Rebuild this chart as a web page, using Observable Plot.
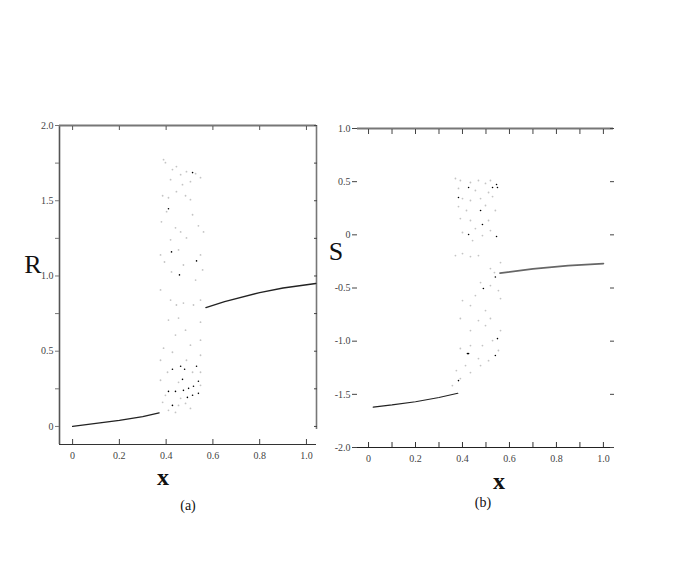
<!DOCTYPE html>
<html>
<head>
<meta charset="utf-8">
<script src="https://cdn.jsdelivr.net/npm/d3@7"></script>
<script src="https://cdn.jsdelivr.net/npm/@observablehq/plot@0.6"></script>
<style>
  body { margin: 0; background: #fff; }
  #wrap { position: relative; width: 692px; height: 562px; background: #fff; overflow: hidden; font-family: "Liberation Serif", "DejaVu Serif", serif; }
  .panel { position: absolute; }
  .lab { position: absolute; color: #111; font-family: "Liberation Serif", serif; transform: translate(-50%, -50%); white-space: nowrap; }
</style>
</head>
<body>
<div id="wrap"></div>
<script>
// ---------- data ----------
const xTicksMajor = [0, 0.2, 0.4, 0.6, 0.8, 1.0];
const xTicksMinor = [0, 0.1, 0.2, 0.3, 0.4, 0.5, 0.6, 0.7, 0.8, 0.9, 1.0];
const yTicksA = [0, 0.25, 0.5, 0.75, 1.0, 1.25, 1.5, 1.75, 2.0];
const yLabelsA = [0, 0.5, 1.0, 1.5, 2.0];
const yTicksB = [-2.0, -1.5, -1.0, -0.5, 0, 0.5, 1.0];
const xDomainA = [-0.056, 1.043];
const yDomainA = [-0.12, 2.0];
const xDomainB = [-0.047, 1.043];
const yDomainB = [-2.0, 1.0];

// panel (a): R vs x
const lineA1 = [[0, 0], [0.1, 0.02], [0.2, 0.04], [0.3, 0.065], [0.37, 0.09]];
const lineA2 = [[0.57, 0.79], [0.65, 0.83], [0.8, 0.89], [0.9, 0.92], [1.04, 0.95]];
const darkA = [[0.513,1.687],[0.410,1.447],[0.423,1.160],[0.530,1.100],[0.457,1.007],[0.427,0.380],[0.462,0.400],[0.479,0.380],[0.530,0.400],[0.470,0.313],[0.538,0.300],[0.410,0.233],[0.440,0.233],[0.474,0.240],[0.496,0.253],[0.517,0.267],[0.427,0.140],[0.491,0.193],[0.513,0.207],[0.538,0.220]];
const greyA = [[0.389,1.773],[0.397,1.753],[0.427,1.707],[0.444,1.727],[0.462,1.673],[0.487,1.693],[0.526,1.68],[0.547,1.653],[0.419,1.64],[0.470,1.607],[0.504,1.627],[0.444,1.56],[0.385,1.533],[0.410,1.52],[0.483,1.533],[0.504,1.507],[0.402,1.427],[0.513,1.407],[0.380,1.36],[0.440,1.32],[0.462,1.293],[0.419,1.24],[0.487,1.253],[0.560,1.293],[0.538,1.333],[0.376,1.14],[0.453,1.173],[0.547,1.14],[0.393,1.093],[0.474,1.073],[0.556,1.04],[0.423,1.027],[0.526,0.973],[0.376,0.907],[0.419,0.84],[0.444,0.807],[0.474,0.82],[0.517,0.807],[0.547,0.84],[0.410,0.707],[0.453,0.72],[0.547,0.693],[0.483,0.64],[0.440,0.607],[0.547,0.573],[0.504,0.54],[0.389,0.52],[0.427,0.493],[0.547,0.473],[0.376,0.44],[0.487,0.44],[0.406,0.36],[0.513,0.36],[0.376,0.307],[0.453,0.293],[0.547,0.36],[0.397,0.207],[0.462,0.187],[0.547,0.273],[0.385,0.16],[0.453,0.14],[0.504,0.12],[0.410,0.107],[0.440,0.093],[0.483,0.153]];

// panel (b): S vs x
const lineB1 = [[0.02, -1.62], [0.1, -1.6], [0.2, -1.57], [0.3, -1.53], [0.38, -1.49]];
const lineB2 = [[0.56, -0.36], [0.7, -0.32], [0.85, -0.29], [1.0, -0.27]];
const darkB = [[0.426,0.445],[0.383,0.351],[0.545,0.473],[0.528,0.445],[0.549,0.445],[0.477,0.229],[0.485,0.097],[0.426,0.003],[0.545,-0.016],[0.540,-0.397],[0.489,-0.505],[0.549,-0.976],[0.421,-1.117],[0.426,-1.117],[0.540,-1.135],[0.383,-1.371]];
const greyB = [[0.370,0.530],[0.391,0.511],[0.434,0.492],[0.468,0.511],[0.498,0.483],[0.519,0.511],[0.383,0.436],[0.455,0.417],[0.511,0.398],[0.400,0.341],[0.434,0.323],[0.477,0.341],[0.528,0.360],[0.383,0.266],[0.417,0.229],[0.498,0.276],[0.540,0.229],[0.391,0.153],[0.434,0.135],[0.511,0.135],[0.455,0.059],[0.400,0.022],[0.485,-0.007],[0.519,0.040],[0.443,-0.054],[0.370,-0.195],[0.400,-0.176],[0.434,-0.204],[0.468,-0.195],[0.562,-0.261],[0.519,-0.317],[0.536,-0.355],[0.477,-0.449],[0.519,-0.477],[0.553,-0.524],[0.455,-0.571],[0.562,-0.599],[0.400,-0.618],[0.434,-0.665],[0.498,-0.712],[0.391,-0.787],[0.468,-0.806],[0.519,-0.787],[0.434,-0.900],[0.498,-0.853],[0.562,-0.900],[0.528,-0.994],[0.485,-1.041],[0.434,-1.041],[0.553,-1.088],[0.391,-1.069],[0.468,-1.164],[0.511,-1.183],[0.413,-1.230],[0.477,-1.230],[0.374,-1.277],[0.434,-1.295],[0.391,-1.352],[0.357,-1.418]];

// ---------- helpers ----------
const fmt = d => d === 0 ? "0" : d.toFixed(1);
const tickFont = {fontFamily: "Liberation Serif, serif", fontSize: 10, fill: "#444"};
const wrap = document.getElementById("wrap");

function place(el, left, top) {
  el.classList.add("panel");
  el.style.left = left + "px";
  el.style.top = top + "px";
  wrap.appendChild(el);
}
function label(text, x, y, size, weight) {
  const d = document.createElement("div");
  d.className = "lab";
  d.textContent = text;
  d.style.left = x + "px";
  d.style.top = y + "px";
  d.style.fontSize = size + "px";
  d.style.fontWeight = weight || "normal";
  wrap.appendChild(d);
}

// ---------- panel (a) ----------
const plotA = Plot.plot({
  width: 330, height: 370,
  marginLeft: 59, marginRight: 14, marginTop: 25, marginBottom: 26,
  style: {background: "transparent", overflow: "visible"},
  x: {domain: xDomainA},
  y: {domain: yDomainA},
  marks: [
    Plot.ruleX([xDomainA[0]], {stroke: "#555", strokeWidth: 1.6}),
    Plot.ruleX([xDomainA[1]], {y1: yDomainA[0] + 0.1, y2: yDomainA[1], stroke: "#777", strokeWidth: 1.6}),
    Plot.ruleY([yDomainA[1]], {stroke: "#777", strokeWidth: 1.8}),
    Plot.ruleY([yDomainA[0]], {stroke: "#333", strokeWidth: 1.2}),
    Plot.axisX({ticks: xTicksMajor, tickSize: -5, tickFormat: fmt, tickPadding: 12, stroke: "#444", ...tickFont}),
    Plot.axisY({ticks: yTicksA, tickSize: 4, tickFormat: d => yLabelsA.includes(d) ? fmt(d) : "", tickPadding: 2, stroke: "#777", ...tickFont}),
    Plot.axisY({anchor: "right", ticks: yTicksA, tickSize: -3, tickFormat: () => "", stroke: "#444"}),
    Plot.axisX({anchor: "top", ticks: xTicksMajor, tickSize: -4, tickFormat: () => "", stroke: "#555"}),
    Plot.dot(greyA, {x: d => d[0], y: d => d[1], r: 0.9, fill: "#c4c4c4", stroke: null}),
    Plot.dot(darkA, {x: d => d[0], y: d => d[1], r: 0.8, fill: "#000", stroke: null}),
    Plot.line(lineA1, {x: d => d[0], y: d => d[1], stroke: "#222", strokeWidth: 1.3}),
    Plot.line(lineA2, {x: d => d[0], y: d => d[1], stroke: "#222", strokeWidth: 1.3})
  ]
});
place(plotA, 0, 100);

// ---------- panel (b) ----------
const plotB = Plot.plot({
  width: 330, height: 370,
  marginLeft: 57, marginRight: 17, marginTop: 28, marginBottom: 23,
  style: {background: "transparent", overflow: "visible"},
  x: {domain: xDomainB},
  y: {domain: yDomainB},
  marks: [
    Plot.ruleY([yDomainB[1]], {stroke: "#777", strokeWidth: 2}),
    Plot.ruleY([yDomainB[0]], {stroke: "#222", strokeWidth: 1.2}),
    Plot.axisX({ticks: xTicksMinor, tickSize: -5, tickFormat: d => xTicksMajor.some(t => Math.abs(t - d) < 1e-9) ? fmt(d) : "", tickPadding: 12, stroke: "#333", ...tickFont}),
    Plot.axisY({ticks: yTicksB, tickSize: 5, tickFormat: fmt, tickPadding: 2, stroke: "#444", ...tickFont}),
    Plot.axisY({anchor: "right", ticks: yTicksB, tickSize: -4, tickFormat: () => "", stroke: "#444"}),
    Plot.axisX({anchor: "top", ticks: xTicksMinor, tickSize: -5, tickFormat: () => "", stroke: "#444"}),
    Plot.dot(greyB, {x: d => d[0], y: d => d[1], r: 0.9, fill: "#c4c4c4", stroke: null}),
    Plot.dot(darkB, {x: d => d[0], y: d => d[1], r: 0.8, fill: "#000", stroke: null}),
    Plot.line(lineB1, {x: d => d[0], y: d => d[1], stroke: "#222", strokeWidth: 1.2}),
    Plot.line(lineB2, {x: d => d[0], y: d => d[1], stroke: "#666", strokeWidth: 1.8})
  ]
});
place(plotB, 300, 100);

// ---------- text labels ----------
label("R", 33, 265, 26, "normal");
label("x", 163, 477, 24, "bold");
label("(a)", 188, 506, 14, "normal");
label("S", 336, 252, 26, "normal");
label("x", 499, 481, 24, "bold");
label("(b)", 483, 503, 14, "normal");
</script>
</body>
</html>
